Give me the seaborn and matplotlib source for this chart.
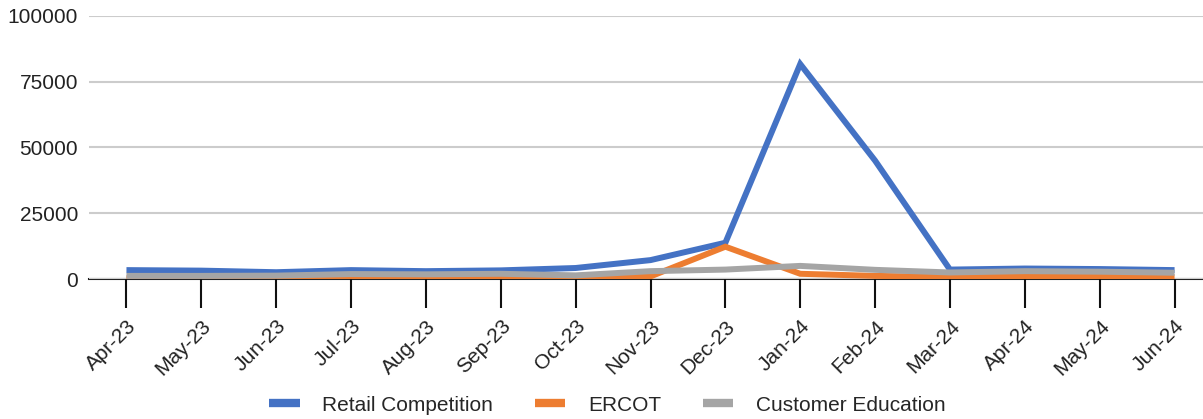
import matplotlib
matplotlib.use("Agg")
import matplotlib.pyplot as plt
import seaborn as sns
import pandas as pd
from matplotlib.lines import Line2D

months = ["Apr-23", "May-23", "Jun-23", "Jul-23", "Aug-23", "Sep-23", "Oct-23",
          "Nov-23", "Dec-23", "Jan-24", "Feb-24", "Mar-24", "Apr-24", "May-24", "Jun-24"]
retail_competition = [3400, 3200, 2600, 3400, 3000, 3300, 4200,
                      7200, 13800, 81700, 45000, 3600, 4000, 3800, 3400]
ercot = [300, 300, 200, 500, 400, 400, 300,
         1000, 12300, 2000, 1200, 800, 900, 800, 700]
customer_education = [1200, 1200, 1300, 1900, 1800, 2000, 1400,
                      3000, 3600, 5000, 3500, 2500, 3000, 2800, 2400]

series_names = ["Retail Competition", "ERCOT", "Customer Education"]
colors = ["#4472C4", "#ED7D31", "#A5A5A5"]

df = pd.DataFrame({
    "month": months * 3,
    "idx": list(range(len(months))) * 3,
    "value": retail_competition + ercot + customer_education,
    "series": sum([[n] * len(months) for n in series_names], []),
})

sns.set_theme(style="white")
plt.rcParams["font.family"] = ["Liberation Sans", "DejaVu Sans"]

fig = plt.figure(figsize=(12.03, 4.19), dpi=100)
ax = fig.add_axes([0.074, 0.334, 0.926, 0.628])

sns.lineplot(data=df, x="idx", y="value", hue="series", hue_order=series_names,
             palette=colors, linewidth=4.3, ax=ax, legend=False,
             solid_joinstyle="miter", solid_capstyle="butt")

ax.set_xlim(-0.5, 14.38)
ax.set_ylim(0, 100000)
ax.set_yticks([0, 25000, 50000, 75000, 100000])
ax.set_yticklabels(["0", "25000", "50000", "75000", "100000"], fontsize=15, color="#222222")
ax.tick_params(axis="y", left=False, length=0, pad=8)

ax.set_xticks(range(len(months)))
ax.set_xticklabels(months, rotation=45, ha="right", va="top",
                   rotation_mode="anchor", fontsize=15, color="#222222")
ax.tick_params(axis="x", bottom=True, length=21, width=1.5, color="#111111",
               pad=6, direction="out")

ax.grid(axis="y", color="#cccccc", linewidth=1.5)
ax.grid(axis="x", visible=False)
ax.set_axisbelow(True)
for side in ["top", "right", "left"]:
    ax.spines[side].set_visible(False)
ax.spines["bottom"].set_color("#222222")
ax.spines["bottom"].set_linewidth(1.5)
ax.spines["bottom"].set_zorder(0.5)
ax.set_xlabel("")
ax.set_ylabel("")

handles = [Line2D([0], [0], color=c, linewidth=6, solid_capstyle="butt") for c in colors]
fig.legend(handles, series_names, loc="center", bbox_to_anchor=(0.505, 0.033), ncol=3,
           frameon=False, fontsize=15, handlelength=1.45, handletextpad=1.1,
           columnspacing=2.0)

fig.savefig("out.png", dpi=100, facecolor="white")
